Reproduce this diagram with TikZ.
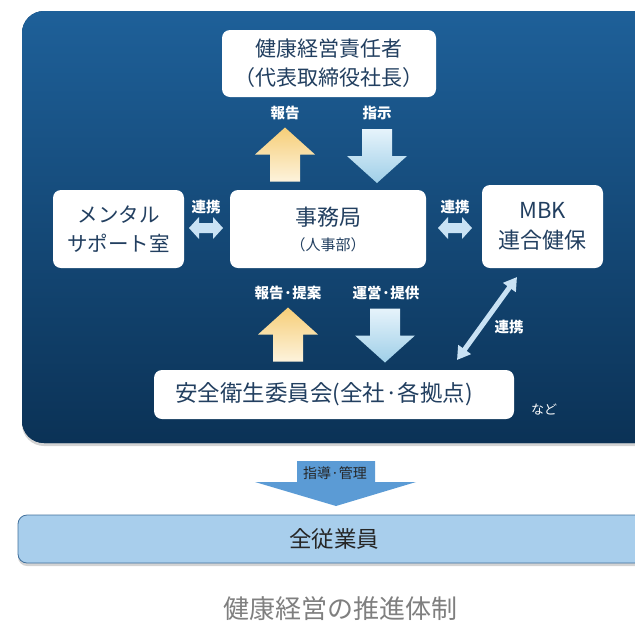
\documentclass[tikz,border=0pt]{standalone}
\usepackage{fontspec}
\setmainfont{Noto Sans CJK JP}
\usetikzlibrary{shadows,arrows.meta,calc}
\definecolor{panTop}{HTML}{1E6099}
\definecolor{panBot}{HTML}{0B3256}
\definecolor{boxText}{HTML}{223F60}
\definecolor{lnk}{HTML}{C9E2F4}
\definecolor{goldTop}{HTML}{F6CE78}
\definecolor{goldBot}{HTML}{FDF3DC}
\definecolor{blueTop}{HTML}{E6F3FB}
\definecolor{blueBot}{HTML}{9FCFE8}
\definecolor{empFill}{HTML}{A8CEEC}
\definecolor{empLine}{HTML}{41709C}
\definecolor{guideArr}{HTML}{5B9BD5}
\definecolor{capGray}{HTML}{7F7F7F}
\tikzset{
  wbox/.style={fill=white, rounded corners=8pt, text=boxText, align=center, inner sep=0pt},
  lbl/.style={text=white, font=\fontsize{14.5}{16}\selectfont\bfseries, inner sep=0pt},
  dbl/.pic={\fill[lnk] (-17,0) -- (-7,-11) -- (-7,-5) -- (7,-5) -- (7,-11) -- (17,0) -- (7,11) -- (7,5) -- (-7,5) -- (-7,11) -- cycle;},
  uparrow/.pic={\shade[top color=goldTop, bottom color=goldBot] (0,-27) -- (30,0) -- (15,0) -- (15,27) -- (-15,27) -- (-15,0) -- (-30,0) -- cycle;},
  downarrow/.pic={\shade[top color=blueTop, bottom color=blueBot] (0,27) -- (30,0) -- (15,0) -- (15,-27) -- (-15,-27) -- (-15,0) -- (-30,0) -- cycle;},
  diag/.style={draw=lnk, line width=5pt, {Triangle[width=15pt,length=13pt]}-{Triangle[width=15pt,length=13pt]}}
}
\begin{document}
\begin{tikzpicture}[x=1pt,y=-1pt]
\useasboundingbox (0,0) rectangle (635,622);
% panel
\fill[panBot, rounded corners=22pt, drop shadow={opacity=0.35, shadow xshift=0pt, shadow yshift=-3pt}] (22,11) rectangle (680,443);
\shade[top color=panTop, bottom color=panBot, rounded corners=22pt] (22,11) rectangle (680,443);
% boxes
\node[wbox, minimum width=214pt, minimum height=67pt, font=\fontsize{21}{29}\selectfont] (ceo) at (329,63.5)
  {健康経営責任者\\（代表取締役社長）};
\node[wbox, minimum width=131pt, minimum height=78pt, font=\fontsize{20.5}{29}\selectfont] (mental) at (118.5,229)
  {メンタル\\サポート室};
\node[wbox, minimum width=196pt, minimum height=78pt, font=\fontsize{22}{26}\selectfont] (office) at (328,229)
  {事務局\\[-1pt]{\fontsize{15}{18}\selectfont （人事部）}};
\node[wbox, minimum width=121pt, minimum height=83pt, font=\fontsize{22}{30}\selectfont] (mbk) at (542.5,226.5)
  {MBK\\連合健保};
\node[wbox, minimum width=360pt, minimum height=49pt, font=\fontsize{22.5}{24}\selectfont] (comm) at (334,394.5)
  {安全衛生委員会(全社·各拠点)\hspace*{20pt}};
\node[text=white, font=\fontsize{13}{15}\selectfont, inner sep=0pt] (etc) at (544,410) {など};
% vertical arrows
\pic at (285,154.5) {uparrow};
\pic at (377,156) {downarrow};
\node[lbl] (l1) at (285,113) {報告};
\node[lbl] (l2) at (377,113) {指示};
\pic at (288,334.5) {uparrow};
\pic at (385,335.5) {downarrow};
\node[lbl] (l3) at (288,293) {報告·提案};
\node[lbl] (l4) at (386,293) {運営·提供};
% links
\pic at (206,228) {dbl};
\node[lbl] (l5) at (206,207) {連携};
\pic at (455,228) {dbl};
\node[lbl] (l6) at (455,207) {連携};
\coordinate (d1) at (517,277);
\coordinate (d2) at (457,360);
\draw[diag] (d1) -- (d2);
\node[lbl] (l7) at (509,327) {連携};
% guide arrow
\fill[guideArr] (297,461) -- (375,461) -- (375,482) -- (416,482) -- (336,506) -- (255,482) -- (297,482) -- cycle;
\node[text=black!85, font=\fontsize{14}{15}\selectfont, inner sep=0pt] (guide) at (335,473) {指導·管理};
% employees
\fill[empFill, draw=empLine, line width=0.8pt, rounded corners=9pt, drop shadow={opacity=0.35, shadow xshift=0pt, shadow yshift=-3pt}] (18,515) rectangle (680,563);
\node[text=black!85, font=\fontsize{22.5}{24}\selectfont, inner sep=0pt] (emp) at (334,539) {全従業員};
% caption
\node[text=capGray, font=\fontsize{26}{28}\selectfont, inner sep=0pt] (cap) at (340,609) {健康経営の推進体制};
\end{tikzpicture}
\end{document}
